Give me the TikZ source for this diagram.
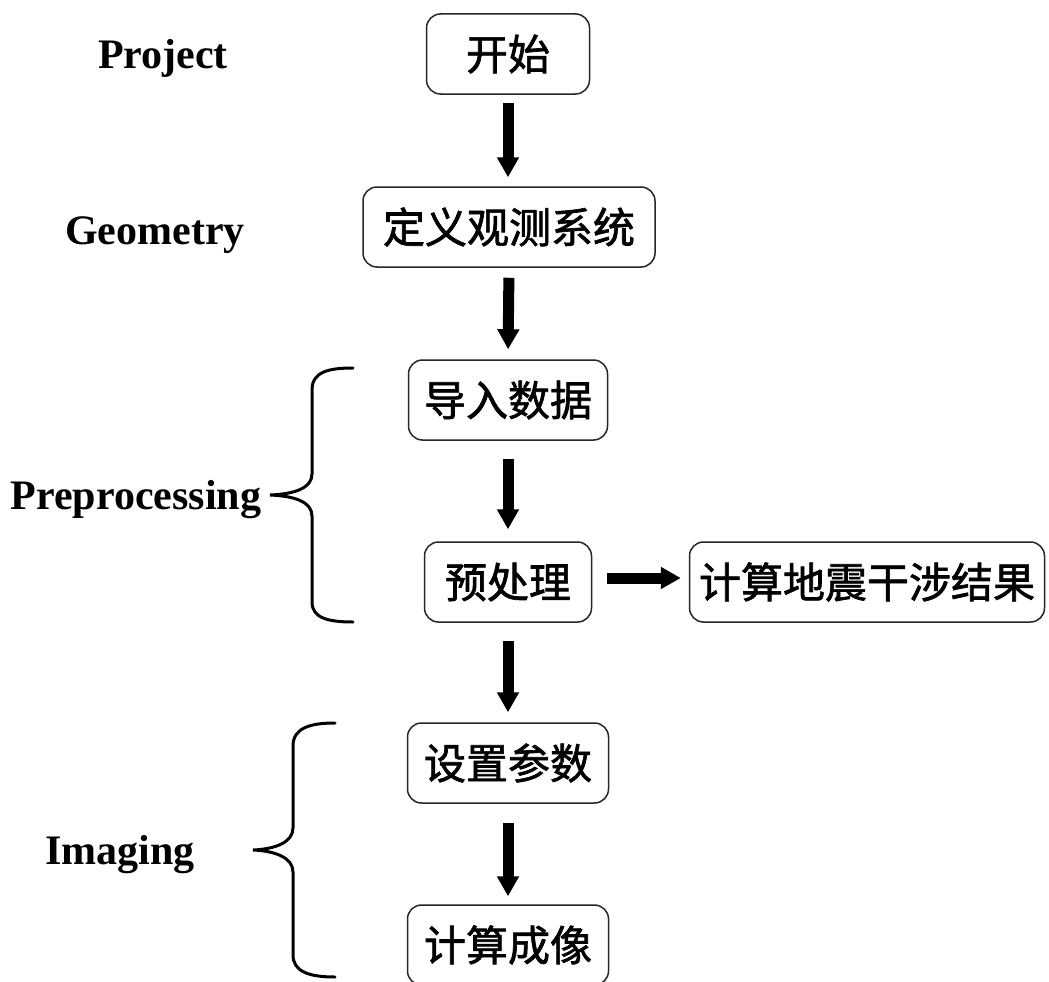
\documentclass[tikz,border=0pt]{standalone}
\usepackage{fontspec}
\setmainfont{Liberation Serif}
\newfontfamily\cjk[FakeBold=1.6]{Noto Sans CJK SC}
\usetikzlibrary{arrows.meta}
\begin{document}
\begin{tikzpicture}[x=1pt,y=-1pt,
 box/.style={draw=black!85,line width=1.5pt,rounded corners=14pt,minimum height=80pt,inner sep=0pt,font=\cjk\fontsize{42}{42}\selectfont},
 lbl/.style={anchor=base,font=\bfseries\fontsize{42}{42}\selectfont},
 bigarr/.style={line width=11pt,-{Triangle[width=21pt,length=20pt]}},
 brace/.style={line width=3pt,line cap=round}]
\clip (0,0) rectangle (1049,982);
\fill[white] (0,0) rectangle (1049,982);
\node[box,minimum width=163pt] (start) at (508,54) {开始};
\node[box,minimum width=292pt] (geo) at (509,227) {定义观测系统};
\node[box,minimum width=199pt] (imp) at (508,400) {导入数据};
\node[box,minimum width=167pt] (pre) at (508,582) {预处理};
\node[box,minimum width=355pt] (res) at (867,582) {计算地震干涉结果};
\node[box,minimum width=201pt] (par) at (508,763) {设置参数};
\node[box,minimum width=201pt] (img) at (508,945) {计算成像};
\node[lbl] (lp) at (163,69) {Project};
\node[lbl] (lg) at (155,244) {Geometry};
\node[lbl] (lpp) at (136,509) {Preprocessing};
\node[lbl] (li) at (120,864) {Imaging};
\draw[bigarr,shorten <=8pt,shorten >=9pt] (start.south) -- (start.south|-geo.north);
\draw[bigarr,shorten <=10pt,shorten >=10pt] (geo.south) -- (imp.north);
\draw[bigarr,shorten <=18pt,shorten >=12pt] (imp.south) -- (pre.north);
\draw[bigarr,shorten <=18pt,shorten >=10pt] (pre.south) -- (par.north);
\draw[bigarr,shorten <=19pt,shorten >=8pt] (par.south) -- (img.north);
\draw[bigarr,shorten <=15pt,shorten >=8pt] ([yshift=4pt]pre.east) -- ([yshift=4pt]pre.east-|res.west);
\draw[brace] (353,368) .. controls (328,368) and (312,372) .. (312,390) -- (312,474) .. controls (312,488) and (295,494) .. (270,495) .. controls (295,496) and (312,502) .. (312,516) -- (312,602) .. controls (312,618) and (328,622) .. (353,622);
\draw[brace] (335,723) .. controls (310,723) and (293,728) .. (293,746) -- (293,828) .. controls (293,842) and (276,849) .. (253,850) .. controls (276,851) and (293,858) .. (293,872) -- (293,955) .. controls (293,972) and (310,977) .. (335,977);
\end{tikzpicture}
\end{document}
